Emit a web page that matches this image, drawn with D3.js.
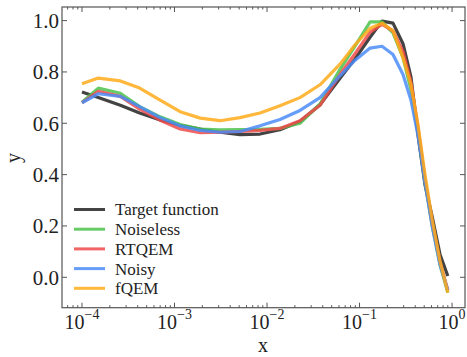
<!DOCTYPE html>
<html>
<head>
<meta charset="utf-8">
<script src="https://cdn.jsdelivr.net/npm/d3@7"></script>
<style>
  body { margin: 0; background: #fff; }
</style>
</head>
<body>
<script>
// x grid shared by every curve
var xs = [1e-4, 1.5e-4, 2.6e-4, 4.2e-4, 7e-4, 1.15e-3, 1.9e-3, 3.1e-3, 5.1e-3, 8.4e-3,
          0.0138, 0.0227, 0.0374, 0.0615, 0.089, 0.13, 0.175, 0.23, 0.295, 0.36,
          0.43, 0.51, 0.61, 0.74, 0.9];

var target    = [0.722, 0.700, 0.670, 0.640, 0.613, 0.592, 0.577, 0.565, 0.556, 0.558,
                 0.575, 0.607, 0.672, 0.775, 0.850, 0.935, 0.998, 0.990, 0.910, 0.780,
                 0.550, 0.360, 0.236, 0.090, 0.005];
var noiseless = [0.682, 0.737, 0.717, 0.665, 0.625, 0.595, 0.577, 0.574, 0.575, 0.576,
                 0.580, 0.600, 0.675, 0.810, 0.900, 0.995, 0.995, 0.952, 0.856, 0.730,
                 0.570, 0.370, 0.200, 0.050, -0.060];
var rtqem     = [0.680, 0.725, 0.705, 0.655, 0.612, 0.578, 0.563, 0.565, 0.568, 0.572,
                 0.580, 0.610, 0.670, 0.790, 0.870, 0.955, 0.985, 0.960, 0.880, 0.760,
                 0.580, 0.380, 0.210, 0.060, -0.050];
var noisy     = [0.680, 0.715, 0.705, 0.665, 0.622, 0.590, 0.572, 0.565, 0.568, 0.590,
                 0.615, 0.650, 0.700, 0.785, 0.845, 0.893, 0.900, 0.868, 0.790, 0.690,
                 0.550, 0.370, 0.200, 0.050, -0.050];
var fqem      = [0.754, 0.776, 0.765, 0.737, 0.690, 0.645, 0.620, 0.610, 0.622, 0.640,
                 0.668, 0.700, 0.750, 0.830, 0.905, 0.970, 0.990, 0.960, 0.856, 0.750,
                 0.590, 0.400, 0.225, 0.065, -0.060];

var seriesNames = ["Target function", "Noiseless", "RTQEM", "Noisy", "fQEM"];
var seriesData = [target, noiseless, rtqem, noisy, fqem];
var colors = ["#222222", "#4cc24c", "#f04a4a", "#4a8cf7", "#ffaa1a"];

var yTicks = [0.0, 0.2, 0.4, 0.6, 0.8, 1.0];
var xTicks = [1e-4, 1e-3, 1e-2, 1e-1, 1];

var font = "'Liberation Serif', 'DejaVu Serif', serif";

var width = 467, height = 357;
var svg = d3.select("body").append("svg")
    .attr("width", width)
    .attr("height", height)
    .attr("font-family", font);

var x = d3.scaleLog()
    .domain([Math.pow(10, -4.216), Math.pow(10, 0.14)])
    .range([62, 465]);
var y = d3.scaleLinear()
    .domain([-0.1185, 1.053])
    .range([307.7, 7]);

var axisColor = "#555";
var majorLen = 5, minorLen = 2.5;

// minor ticks on x
var minorTicks = [];
for (var e = -5; e <= 0; e++) {
  for (var m = 2; m <= 9; m++) {
    var v = m * Math.pow(10, e);
    if (v > x.domain()[0] && v < x.domain()[1]) minorTicks.push(v);
  }
}

var ticksG = svg.append("g").attr("stroke", axisColor).attr("stroke-width", 1);
[y.range()[0], y.range()[1]].forEach(function(yy, i) {
  var dir = i === 0 ? -1 : 1;
  ticksG.selectAll(null).data(xTicks).enter().append("line")
      .attr("x1", function(d) { return x(d); }).attr("x2", function(d) { return x(d); })
      .attr("y1", yy).attr("y2", yy + dir * majorLen);
  ticksG.selectAll(null).data(minorTicks).enter().append("line")
      .attr("x1", function(d) { return x(d); }).attr("x2", function(d) { return x(d); })
      .attr("y1", yy).attr("y2", yy + dir * minorLen);
});
[x.range()[0], x.range()[1]].forEach(function(xx, i) {
  var dir = i === 0 ? 1 : -1;
  ticksG.selectAll(null).data(yTicks).enter().append("line")
      .attr("x1", xx).attr("x2", xx + dir * majorLen)
      .attr("y1", function(d) { return y(d); }).attr("y2", function(d) { return y(d); });
});

// curves
var line = d3.line()
    .x(function(d) { return x(d[0]); })
    .y(function(d) { return y(d[1]); });

svg.append("g").selectAll("path")
    .data(seriesData)
  .enter().append("path")
    .attr("fill", "none")
    .attr("stroke", function(d, i) { return colors[i]; })
    .attr("stroke-width", 3.2)
    .attr("stroke-opacity", 0.85)
    .attr("stroke-linejoin", "round")
    .attr("d", function(d) { return line(xs.map(function(xv, j) { return [xv, d[j]]; })); });

// frame
svg.append("rect")
    .attr("x", x.range()[0]).attr("y", y.range()[1])
    .attr("width", x.range()[1] - x.range()[0])
    .attr("height", y.range()[0] - y.range()[1])
    .attr("fill", "none")
    .attr("stroke", axisColor)
    .attr("stroke-width", 1.2);

// y tick labels
svg.append("g").selectAll("text")
    .data(yTicks)
  .enter().append("text")
    .attr("x", 59)
    .attr("y", function(d) { return y(d); })
    .attr("dy", "0.35em")
    .attr("text-anchor", "end")
    .attr("fill", "#222")
    .attr("font-family", font)
    .style("font-size", "21px")
    .text(function(d) { return d.toFixed(1); });

// x tick labels 10^k
var xl = svg.append("g").selectAll("text")
    .data(xTicks)
  .enter().append("text")
    .attr("x", function(d) { return x(d); })
    .attr("y", 329)
    .attr("text-anchor", "middle")
    .attr("fill", "#222")
    .attr("font-family", font)
    .style("font-size", "20px");
xl.append("tspan").text("10");
xl.append("tspan")
    .attr("dy", -10)
    .style("font-size", "14px")
    .text(function(d) { var k = Math.round(Math.log10(d)); return k < 0 ? "\u2212" + (-k) : String(k); });

// axis labels
svg.append("text")
    .attr("x", 263).attr("y", 352)
    .attr("text-anchor", "middle")
    .attr("fill", "#222")
    .attr("font-family", font)
    .style("font-size", "20px")
    .text("x");
svg.append("text")
    .attr("transform", "translate(20,158)rotate(-90)")
    .attr("text-anchor", "middle")
    .attr("fill", "#222")
    .attr("font-family", font)
    .style("font-size", "20px")
    .text("y");

// legend
var leg = svg.append("g").selectAll("g")
    .data(seriesNames)
  .enter().append("g")
    .attr("transform", function(d, i) { return "translate(0," + (209.5 + i * 19.7) + ")"; });
leg.append("line")
    .attr("x1", 74).attr("x2", 105)
    .attr("stroke", function(d, i) { return colors[i]; })
    .attr("stroke-width", 3)
    .attr("stroke-opacity", 0.85);
leg.append("text")
    .attr("x", 115)
    .attr("dy", "0.35em")
    .attr("fill", "#222")
    .attr("font-family", font)
    .style("font-size", "17px")
    .text(function(d) { return d; });
</script>
</body>
</html>
